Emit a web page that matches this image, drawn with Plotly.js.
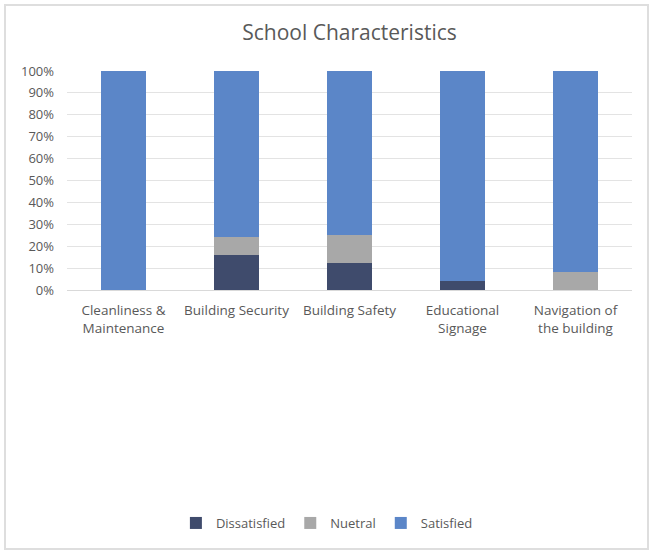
<!DOCTYPE html>
<html>
<head>
<meta charset="utf-8">
<script src="https://cdn.plot.ly/plotly-3.0.1.min.js"></script>
<style>
  html, body { margin: 0; padding: 0; background: #fff; }
  #wrap { position: relative; width: 652px; height: 550px; }
  #chart { position: absolute; left: 0; top: 0; width: 652px; height: 550px; }
  #frame { position: absolute; left: 4px; top: 4px; width: 641px; height: 542px;
           border: 2px solid #dedede; pointer-events: none; }
</style>
</head>
<body>
<div id="wrap">
  <div id="chart"></div>
  <div id="frame"></div>
</div>
<script>
// Survey categories and the share of responses (percent) in each rating
const categories = [
  "Cleanliness &<br>Maintenance",
  "Building Security",
  "Building Safety",
  "Educational<br>Signage",
  "Navigation of<br>the building"
];
const dissatisfied = [0, 16, 12.5, 4, 0];
const neutral      = [0, 8, 12.5, 0, 8.3];
const satisfied    = [100, 76, 75, 96, 91.7];

const seriesNames = ["Dissatisfied", "Nuetral", "Satisfied"];
const tickValues = [0, 10, 20, 30, 40, 50, 60, 70, 80, 90, 100];

const colors = ["#3f4b6c", "#a8a8a8", "#5b86c8"];
const font = "Open Sans, Noto Sans, sans-serif";

const traces = [dissatisfied, neutral, satisfied].map((vals, i) => ({
  type: "bar",
  name: seriesNames[i],
  x: categories,
  y: vals,
  marker: { color: colors[i], line: { width: 0 } },
  hoverinfo: "x+y+name"
}));

const layout = {
  width: 652,
  height: 550,
  barmode: "stack",
  bargap: 0.6,
  paper_bgcolor: "#ffffff",
  plot_bgcolor: "#ffffff",
  margin: { l: 67, r: 20, t: 71, b: 260 },
  title: {
    text: "School Characteristics",
    x: 0.5,
    xref: "paper",
    y: 0.94,
    yref: "container",
    yanchor: "middle",
    font: { family: font, size: 21, color: "#595959" }
  },
  font: { family: font, color: "#595959", size: 13 },
  xaxis: {
    type: "category",
    showgrid: false,
    showline: true,
    linecolor: "#d9d9d9",
    linewidth: 1,
    ticks: "",
    ticklabelstandoff: 8,
    tickfont: { family: font, size: 13.5, color: "#595959" },
    fixedrange: true
  },
  yaxis: {
    range: [0, 100],
    tickvals: tickValues,
    ticktext: tickValues.map(v => v + "%"),
    showgrid: true,
    gridcolor: "#e3e3e3",
    gridwidth: 1,
    zeroline: false,
    showline: false,
    ticks: "",
    ticklen: 0,
    ticklabelstandoff: 12,
    tickfont: { family: font, size: 13, color: "#595959" },
    fixedrange: true
  },
  showlegend: true,
  legend: {
    orientation: "h",
    x: 0.46,
    xanchor: "center",
    xref: "paper",
    y: 27 / 550,
    yref: "container",
    yanchor: "middle",
    font: { family: font, size: 13, color: "#595959" },
    itemwidth: 30,
    traceorder: "normal"
  }
};

Plotly.newPlot("chart", traces, layout, { displayModeBar: false, staticPlot: true });
</script>
</body>
</html>
